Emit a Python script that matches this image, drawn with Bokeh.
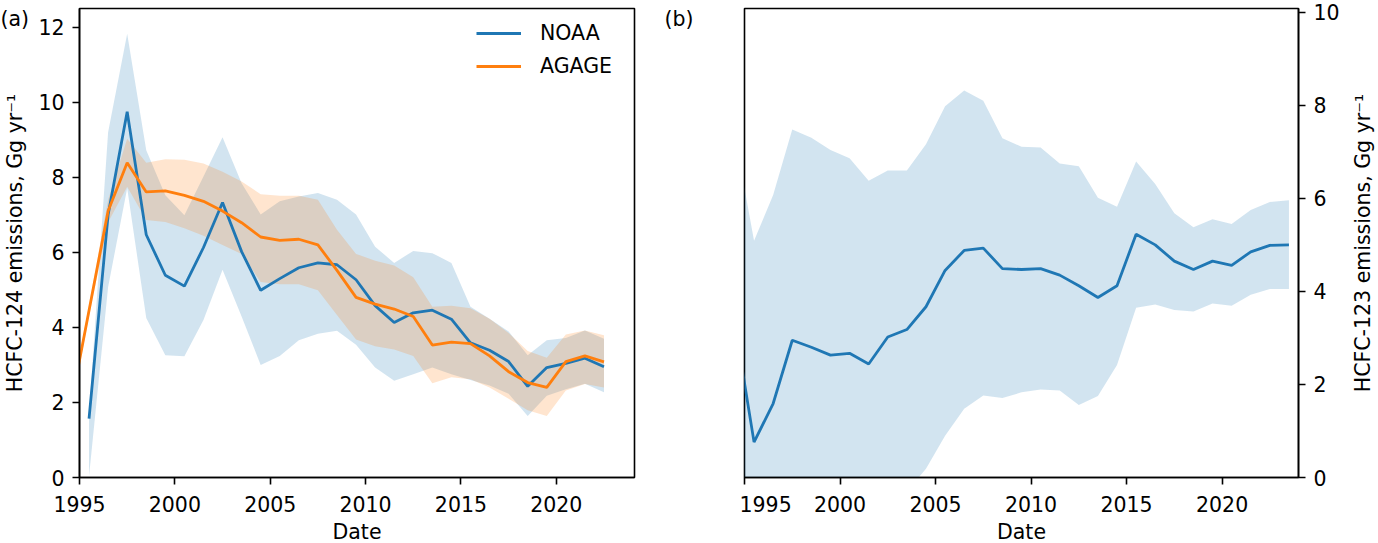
import math
from bokeh.plotting import figure
from bokeh.models import Range1d, FixedTicker, Label, Legend, LegendItem
from bokeh.layouts import row
from bokeh.embed import file_html
from bokeh.resources import INLINE

# ---------------- data ----------------
# panel (a): HCFC-124, NOAA (years 1995.5 .. 2022.5)
noaa124_years = [1995.5 + i for i in range(28)]
noaa124_mean = [1.57, 7.0, 9.75, 6.47, 5.39, 5.10, 6.13, 7.33, 6.02, 4.99, 5.30, 5.59, 5.72, 5.67,
                5.27, 4.58, 4.13, 4.39, 4.46, 4.22, 3.59, 3.39, 3.09, 2.43, 2.93, 3.04, 3.18, 2.95]
noaa124_upper = [1.7, 9.2, 11.83, 8.72, 7.52, 6.99, 8.02, 9.07, 7.84, 7.01, 7.36, 7.49, 7.58, 7.40,
                 7.01, 6.15, 5.72, 6.04, 5.98, 5.72, 4.55, 4.23, 3.89, 3.26, 3.66, 3.72, 3.92, 3.70]
noaa124_lower = [0.03, 5.08, 7.71, 4.25, 3.26, 3.23, 4.20, 5.54, 4.29, 3.00, 3.24, 3.66, 3.83, 3.91,
                 3.54, 2.93, 2.58, 2.75, 2.93, 2.75, 2.60, 2.45, 2.23, 1.64, 2.18, 2.35, 2.50, 2.27]

# panel (a): HCFC-124, AGAGE (years 1994.5 .. 2022.5)
agage124_years = [1994.5 + i for i in range(29)]
agage124_mean = [1.8, 4.45, 7.1, 8.39, 7.61, 7.64, 7.52, 7.36, 7.10, 6.79, 6.41, 6.32, 6.35, 6.20,
                 5.52, 4.80, 4.62, 4.49, 4.29, 3.53, 3.61, 3.57, 3.24, 2.82, 2.53, 2.40, 3.09, 3.24, 3.08]
agage124_upper = [1.95, 4.6, 7.4, 9.03, 8.39, 8.48, 8.47, 8.37, 8.15, 7.89, 7.55, 7.51, 7.51, 7.40,
                  6.60, 5.96, 5.78, 5.65, 5.34, 4.55, 4.58, 4.51, 4.23, 3.85, 3.37, 3.19, 3.81, 3.92, 3.79]
agage124_lower = [1.65, 4.3, 6.8, 7.75, 6.86, 6.81, 6.64, 6.44, 6.20, 5.96, 5.21, 5.15, 5.15, 4.99,
                  4.33, 3.68, 3.50, 3.41, 3.24, 2.51, 2.67, 2.62, 2.40, 2.10, 1.79, 1.64, 2.32, 2.49, 2.40]

# panel (b): HCFC-123, NOAA (years 1994.5 .. 2023.5)
noaa123_years = [1994.5 + i for i in range(30)]
noaa123_mean = [3.3, 0.76, 1.59, 2.95, 2.80, 2.63, 2.67, 2.44, 3.02, 3.18,
                3.67, 4.45, 4.88, 4.93, 4.49, 4.47, 4.49, 4.35, 4.12, 3.87,
                4.12, 5.23, 5.00, 4.65, 4.47, 4.65, 4.56, 4.85, 4.99, 5.00]
noaa123_upper = [7.33, 5.09, 6.07, 7.48, 7.30, 7.04, 6.86, 6.38, 6.60, 6.60,
                 7.16, 7.98, 8.32, 8.10, 7.29, 7.11, 7.09, 6.75, 6.69, 6.01,
                 5.82, 6.79, 6.31, 5.68, 5.38, 5.55, 5.45, 5.75, 5.92, 5.96]
noaa123_lower = [0.0, 0.0, 0.0, 0.0, 0.0, 0.0, 0.0, 0.0, 0.0, -0.3,
                 0.19, 0.90, 1.48, 1.76, 1.71, 1.83, 1.89, 1.87, 1.56, 1.75,
                 2.42, 3.65, 3.72, 3.60, 3.57, 3.74, 3.69, 3.93, 4.05, 4.05]

x_ticks = [1995, 2000, 2005, 2010, 2015, 2020]
y_ticks_a = [0, 2, 4, 6, 8, 10, 12]
y_ticks_b = [0, 2, 4, 6, 8, 10]

BLUE = "#1f77b4"
ORANGE = "#ff7f0e"
FONT = "DejaVu Sans"
FS = "20.5px"

FRAME_H = 469
TOP = 8
BOTTOM = 60
YLABEL_A = "HCFC-124 emissions, Gg yr\u207b\u00b9"
YLABEL_B = "HCFC-123 emissions, Gg yr\u207b\u00b9"


def style(p):
    p.grid.visible = False
    p.outline_line_color = "black"
    p.outline_line_width = 1.6
    p.outline_line_alpha = 1.0
    p.background_fill_color = "white"
    p.border_fill_color = "white"
    for ax in p.axis:
        ax.axis_line_width = 1.6
        ax.axis_line_color = "black"
        ax.major_tick_line_width = 1.6
        ax.major_tick_line_color = "black"
        ax.major_tick_out = 7
        ax.major_tick_in = 0
        ax.minor_tick_out = 0
        ax.minor_tick_in = 0
        ax.major_label_standoff = 8
        ax.axis_label_standoff = 8
        ax.major_label_text_font = FONT
        ax.major_label_text_font_size = FS
        ax.major_label_text_color = "black"
        ax.axis_label_text_font = FONT
        ax.axis_label_text_font_size = FS
        ax.axis_label_text_font_style = "normal"
        ax.axis_label_text_color = "black"
    for ax in p.xaxis:
        ax.major_label_standoff = 11
        ax.axis_label_standoff = 5


def text_label(txt, x, y, **kw):
    return Label(x=x, y=y, x_units="screen", y_units="screen", text=txt,
                 text_font=FONT, text_font_size=FS, text_color="black",
                 text_align="left", text_baseline="middle", **kw)


# ---------------- panel (a) ----------------
p1 = figure(frame_width=555, frame_height=FRAME_H,
            min_border_left=78, min_border_right=105, min_border_top=TOP, min_border_bottom=BOTTOM,
            x_range=Range1d(1995, 2024.1), y_range=Range1d(0, 12.5),
            output_backend="svg", toolbar_location=None)
style(p1)
p1.xaxis.ticker = FixedTicker(ticks=x_ticks)
p1.yaxis.ticker = FixedTicker(ticks=y_ticks_a)
p1.xaxis.axis_label = "Date"
p1.yaxis.axis_label = YLABEL_A

p1.varea(x=noaa124_years, y1=noaa124_lower, y2=noaa124_upper, fill_color=BLUE, fill_alpha=0.2)
p1.varea(x=agage124_years, y1=agage124_lower, y2=agage124_upper, fill_color=ORANGE, fill_alpha=0.2)
r_noaa = p1.line(noaa124_years, noaa124_mean, line_color=BLUE, line_width=2.8)
r_agage = p1.line(agage124_years, agage124_mean, line_color=ORANGE, line_width=2.8)

legend = Legend(items=[LegendItem(label="NOAA", renderers=[r_noaa]),
                       LegendItem(label="AGAGE", renderers=[r_agage])],
                location=(397, 399))
legend.border_line_color = None
legend.background_fill_alpha = 0.0
legend.label_text_font = FONT
legend.label_text_font_size = FS
legend.label_text_color = "black"
legend.glyph_width = 45
legend.label_standoff = 19
legend.spacing = 9
legend.margin = 0
legend.padding = 10
p1.add_layout(legend)

# panel letters, placed in the (otherwise empty) right side panel of (a) so they are not clipped
p1.add_layout(text_label("(a)", -634, FRAME_H - 10.5), "right")
p1.add_layout(text_label("(b)", 1, FRAME_H - 10.5), "right")

# ---------------- panel (b) ----------------
p2 = figure(frame_width=554, frame_height=FRAME_H,
            min_border_left=5, min_border_right=49, min_border_top=TOP, min_border_bottom=BOTTOM,
            x_range=Range1d(1995, 2024.0), y_range=Range1d(0, 10.08),
            y_axis_location="right",
            output_backend="svg", toolbar_location=None)
style(p2)
p2.xaxis.ticker = FixedTicker(ticks=x_ticks)
p2.yaxis.ticker = FixedTicker(ticks=y_ticks_b)
p2.xaxis.axis_label = "Date"

p2.varea(x=noaa123_years, y1=noaa123_lower, y2=noaa123_upper, fill_color=BLUE, fill_alpha=0.2)
p2.line(noaa123_years, noaa123_mean, line_color=BLUE, line_width=2.8)

# ---------------- right-hand axis title of (b) ----------------
# a narrow companion figure whose (tick-less) left axis carries the upward-reading title,
# centred on the same frame height as panel (b)
p3 = figure(frame_width=1, frame_height=FRAME_H,
            min_border_left=0, min_border_right=0, min_border_top=TOP, min_border_bottom=0,
            x_range=Range1d(0, 1), y_range=Range1d(0, 10.08),
            x_axis_location=None, y_axis_location="left",
            output_backend="svg", toolbar_location=None)
p3.grid.visible = False
p3.outline_line_color = None
p3.background_fill_color = "white"
p3.border_fill_color = "white"
ax3 = p3.yaxis[0]
ax3.ticker = FixedTicker(ticks=[])
ax3.axis_line_color = None
ax3.major_tick_line_color = None
ax3.minor_tick_line_color = None
ax3.major_tick_out = 0
ax3.major_tick_in = 0
ax3.major_label_text_font_size = "0px"
ax3.axis_label = YLABEL_B
ax3.axis_label_standoff = 0
ax3.axis_label_text_font = FONT
ax3.axis_label_text_font_size = FS
ax3.axis_label_text_font_style = "normal"
ax3.axis_label_text_color = "black"

layout = row(p1, p2, p3)
open("out.html", "w").write(file_html(layout, INLINE))
